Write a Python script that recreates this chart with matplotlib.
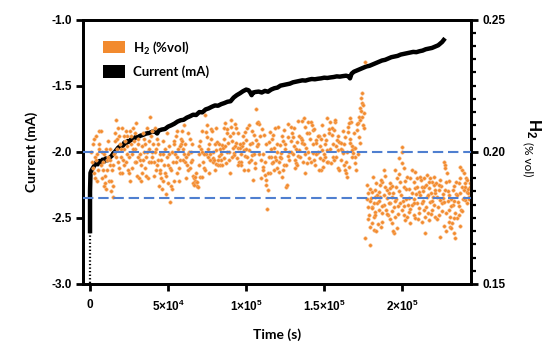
import matplotlib
matplotlib.use("Agg")
import matplotlib.pyplot as plt
from matplotlib.patches import Patch
from matplotlib.ticker import FixedLocator, FuncFormatter, MultipleLocator

# ---------------- data ----------------
# Current (mA) vs time (kilo-seconds)
cur_t_ks = [0, 0, 0, 0.3, 1, 2, 3, 4, 5, 6, 7, 8, 9, 10, 11, 12, 13, 14, 15, 16, 17, 18, 19, 20,
            21, 22, 23, 24, 25, 26, 27, 28, 29, 30, 32, 34, 36, 38, 40, 42, 43, 44, 46, 48, 50,
            52, 54, 56, 58, 60, 62, 64, 66, 68, 70, 72, 74, 76, 78, 80, 82, 84, 86, 88, 90, 92,
            94, 96, 98, 100, 101.5, 102.5, 103.5, 104.5, 106, 108, 110, 112, 114, 116, 118, 120,
            122, 124, 126, 128, 130, 132, 134, 136, 138, 140, 142, 144, 146, 148, 150, 152, 154,
            156, 158, 160, 162, 164, 165.5, 166.5, 167.5, 169, 171, 173, 175, 177, 179, 181, 183,
            185, 187, 189, 191, 193, 195, 197, 199, 201, 203, 205, 207, 209, 211, 213, 215, 217,
            219, 221, 223, 224.5, 225.5, 226.5]
cur_mA = [-2.99, -2.60, -2.30, -2.16, -2.14, -2.12, -2.10, -2.08, -2.095, -2.07, -2.085, -2.06,
          -2.075, -2.05, -2.065, -2.06, -2.04, -2.03, -2.01, -2.00, -1.985, -1.97, -1.96, -1.95,
          -1.955, -1.93, -1.94, -1.92, -1.925, -1.91, -1.90, -1.91, -1.89, -1.895, -1.88, -1.872,
          -1.862, -1.858, -1.848, -1.85, -1.862, -1.84, -1.832, -1.828, -1.81, -1.80, -1.788,
          -1.772, -1.762, -1.758, -1.742, -1.732, -1.72, -1.722, -1.70, -1.702, -1.68, -1.672,
          -1.66, -1.65, -1.652, -1.64, -1.632, -1.622, -1.618, -1.59, -1.572, -1.558, -1.542,
          -1.53, -1.535, -1.55, -1.572, -1.552, -1.548, -1.545, -1.552, -1.54, -1.546, -1.53,
          -1.52, -1.515, -1.50, -1.495, -1.49, -1.485, -1.475, -1.47, -1.465, -1.46, -1.462,
          -1.455, -1.45, -1.452, -1.448, -1.445, -1.44, -1.442, -1.438, -1.435, -1.43, -1.432,
          -1.428, -1.425, -1.43, -1.445, -1.41, -1.395, -1.385, -1.375, -1.365, -1.355, -1.35,
          -1.34, -1.33, -1.32, -1.31, -1.305, -1.295, -1.285, -1.28, -1.275, -1.265, -1.26,
          -1.255, -1.25, -1.245, -1.247, -1.24, -1.235, -1.225, -1.22, -1.215, -1.205, -1.195,
          -1.18, -1.17, -1.155]

# H2 (% vol) vs time (kilo-seconds), read point by point
h2_t_ks = [
    1.0, 2.0, 3.0, 4.0, 4.5, 5.0, 5.5, 6.0, 3.5, 2.5,
    7.0, 7.5, 8.0, 8.5, 9.0, 9.5, 10.0, 10.5, 11.0, 11.5, 12.0, 12.5,
    13.0, 13.5, 14.0, 14.5, 15.0, 15.5, 16.0, 16.5, 17.0, 17.5, 18.0, 18.5, 19.0,
    19.5, 20.0, 20.5, 21.0, 21.5, 22.0, 22.5, 23.0, 23.5, 24.0, 24.5, 25.0, 25.5,
    26.0, 26.5, 27.0, 27.5, 28.0, 28.5, 29.0, 29.5, 30.0, 30.5, 31.0, 31.5,
    32.0, 32.5, 33.0, 33.5, 34.0, 34.5, 35.0, 35.5, 36.0, 36.5, 37.0, 37.5, 38.0,
    38.5, 39.0, 39.5, 40.0, 40.5, 41.0, 41.5, 42.0, 42.5, 43.0, 43.5, 44.0, 44.5,
    45.0, 45.5, 46.0, 46.5, 47.0, 47.5, 48.0, 48.5, 49.0, 49.5, 50.0, 50.5, 51.0,
    51.5, 52.0, 52.5, 53.0, 53.5, 54.0, 54.5, 55.0, 55.5, 56.0, 56.5, 57.0, 57.5,
    58.0, 58.5, 59.0, 59.5, 60.0, 60.5, 61.0, 61.5, 62.0, 62.5, 63.0, 63.5, 64.0,
    64.5, 65.0, 65.5, 66.0, 66.5, 67.0, 67.5, 68.0, 68.5, 69.0, 69.5, 70.0, 70.2,
    71.0, 71.5, 72.0, 72.5, 73.0, 73.5, 74.0, 74.5, 75.0, 75.5, 76.0, 76.5,
    77.0, 77.5, 78.0, 78.5, 79.0, 79.5, 80.0, 80.5, 81.0, 81.5, 82.0, 82.5, 83.0,
    83.5, 84.0, 84.5, 85.0, 85.5, 86.0, 86.5, 87.0, 87.5, 88.0, 88.5, 89.0, 89.5,
    90.0, 90.5, 91.0, 91.5, 92.0, 92.5, 93.0, 93.5, 94.0, 94.5, 95.0, 95.5,
    96.0, 96.5, 97.0, 97.5, 98.0, 98.5, 99.0, 99.5, 100.0, 100.5, 101.0, 101.5, 102.0,
    103.0, 103.5, 104.0, 104.5, 105.0, 105.5, 106.0, 106.5, 107.0, 107.5, 108.0, 108.5,
    109.5, 110.0, 110.5, 111.0, 111.5, 112.0, 112.5, 113.0, 113.5, 114.0, 114.5, 115.0, 115.5,
    116.0, 116.5, 117.0, 117.5, 118.0, 118.5, 119.0, 119.5, 120.0, 120.5, 121.0, 121.5,
    122.0, 122.5, 123.0, 123.5, 124.0, 124.5, 125.0, 125.5, 126.0, 126.5, 127.0, 127.5,
    128.5, 129.0, 129.5, 130.0, 130.5, 131.0, 131.5, 132.0, 132.5, 133.0, 133.5, 134.0,
    135.0, 135.5, 136.0, 136.5, 137.0, 137.5, 138.0, 138.5, 139.0, 139.5, 140.0, 140.5,
    141.5, 142.0, 142.5, 143.0, 143.5, 144.0, 144.5, 145.0, 145.5, 146.0, 146.5, 147.0,
    147.5, 148.0, 148.5, 149.0, 149.5, 150.0, 150.5, 151.0, 151.5, 152.0, 152.5, 153.0,
    154.0, 154.5, 155.0, 155.5, 156.0, 156.5, 157.0, 157.5, 158.0, 158.5, 159.0, 159.5,
    160.5, 161.0, 161.5, 162.0, 162.5, 163.0, 163.5, 164.0, 164.5, 165.0, 165.5, 166.0, 166.5, 166.2,
    167.0, 167.5, 168.0, 168.5, 169.0, 169.5, 170.0, 170.5, 171.0, 171.5, 172.0, 172.5, 173.0, 173.2,
    173.5, 174.0, 174.5, 175.0, 175.5, 174.2, 174.8, 175.2, 176.3,
    # second period
    176.3, 179.5, 182.7, 184.8, 183.8, 185.9, 181.6, 180.6, 182.7, 184.8, 187.0, 181.9, 180.6,
    179.5, 181.9, 186.2, 187.0, 188.0, 189.0, 190.2, 191.2, 192.3, 193.4, 190.2, 192.3, 194.4,
    195.5, 193.4, 194.4, 196.6, 199.7, 199.7, 197.6, 199.7, 200.8, 195.5, 196.6, 198.7, 200.8,
    198.7, 199.7, 200.8, 201.9, 204.0, 203.0, 205.1, 207.2, 208.3, 206.1, 205.1, 207.2, 208.3,
    209.4, 211.5, 212.6, 210.4, 209.4, 210.4, 212.6, 213.7, 214.7, 212.6, 214.7, 215.8, 217.9,
    219.0, 220.1, 216.9, 221.1, 223.3, 222.2, 224.4, 225.4, 215.8, 217.9, 220.1, 219.0, 221.1,
    216.9, 224.4, 226.5, 227.6, 227.6, 228.6, 229.7, 230.8, 229.7, 231.8, 230.8, 232.9, 234.0,
    234.0, 235.0, 236.1, 237.2, 238.3, 239.3, 237.2, 236.1, 238.3, 239.3, 241.5, 242.5, 240.4,
    241.5, 178.2, 180.3, 182.5, 178.2, 180.3, 183.5,
    177.5, 179.0, 178.8, 183.0, 185.5, 186.8, 188.5, 189.5, 191.0, 192.0, 193.5, 194.0, 196.0,
    197.0, 198.0, 201.5, 202.5, 203.5, 204.5, 206.5, 207.8, 209.0, 211.0, 213.0, 214.0, 215.0,
    216.3, 218.5, 219.8, 221.8, 222.8, 223.8, 225.0, 226.0, 227.0, 228.0, 229.0, 230.2, 231.2,
    232.3, 233.4, 234.6, 235.6, 236.8, 237.8, 238.8, 240.0, 240.8, 242.0, 243.0, 243.5, 231.5,
    233.0, 226.8, 228.3]
h2_vol = [
    0.196, 0.203, 0.190, 0.206, 0.199, 0.193, 0.201, 0.208, 0.198, 0.192,
    0.208, 0.200, 0.193, 0.196, 0.187, 0.191, 0.186, 0.201, 0.197, 0.204, 0.189, 0.195,
    0.197, 0.189, 0.193, 0.187, 0.183, 0.199, 0.207, 0.212, 0.205, 0.201, 0.196, 0.206, 0.192,
    0.203, 0.198, 0.209, 0.197, 0.195, 0.201, 0.204, 0.208, 0.199, 0.206, 0.193, 0.192, 0.189,
    0.203, 0.206, 0.199, 0.209, 0.204, 0.196, 0.201, 0.211, 0.191, 0.198, 0.205, 0.190,
    0.197, 0.195, 0.192, 0.202, 0.207, 0.200, 0.194, 0.203, 0.198, 0.209, 0.190, 0.196, 0.201,
    0.213, 0.206, 0.200, 0.198, 0.203, 0.196, 0.209, 0.193, 0.201, 0.205, 0.197, 0.187, 0.199,
    0.192, 0.190, 0.186, 0.199, 0.204, 0.195, 0.192, 0.191, 0.207, 0.198, 0.188, 0.202, 0.194,
    0.181, 0.187, 0.186, 0.196, 0.204, 0.203, 0.199, 0.196, 0.208, 0.192, 0.201, 0.189, 0.197,
    0.205, 0.203, 0.204, 0.201, 0.199, 0.210, 0.196, 0.198, 0.195, 0.193, 0.207, 0.200, 0.194,
    0.200, 0.203, 0.197, 0.191, 0.190, 0.189, 0.1906, 0.1887, 0.187, 0.1865, 0.202, 0.199, 0.1905,
    0.201, 0.200, 0.1906, 0.196, 0.194, 0.214, 0.2076, 0.199, 0.2057, 0.198, 0.203, 0.1918,
    0.199, 0.2085, 0.2079, 0.1975, 0.1962, 0.197, 0.203, 0.1955, 0.2005, 0.2038, 0.195, 0.1985, 0.201,
    0.195, 0.197, 0.2026, 0.2013, 0.209, 0.1975, 0.202, 0.1956, 0.207, 0.2085, 0.2032, 0.200, 0.192,
    0.212, 0.2095, 0.204, 0.2013, 0.1994, 0.1988, 0.2105, 0.2032, 0.1975, 0.207, 0.2015, 0.196,
    0.2013, 0.1962, 0.195, 0.202, 0.2032, 0.2005, 0.1985, 0.2075, 0.2045, 0.198, 0.193, 0.2005, 0.210,
    0.197, 0.1988, 0.2032, 0.1893, 0.2065, 0.1956, 0.2045, 0.216, 0.202, 0.2112, 0.2105, 0.199,
    0.197, 0.2085, 0.1944, 0.1931, 0.2065, 0.1912, 0.1893, 0.1875, 0.1783, 0.1855, 0.2035, 0.1918, 0.2075,
    0.198, 0.1956, 0.1962, 0.2063, 0.2015, 0.198, 0.197, 0.1937, 0.203, 0.2095, 0.1925, 0.2025,
    0.1994, 0.1975, 0.1906, 0.204, 0.195, 0.2082, 0.201, 0.1868, 0.1874, 0.1985, 0.2055, 0.200,
    0.2095, 0.200, 0.207, 0.2057, 0.202, 0.197, 0.1937, 0.1956, 0.2035, 0.1985, 0.2115, 0.2005,
    0.2051, 0.2045, 0.2032, 0.1962, 0.2126, 0.199, 0.2095, 0.2015, 0.1956, 0.2113, 0.207, 0.1975,
    0.2113, 0.2101, 0.2082, 0.1994, 0.197, 0.195, 0.2045, 0.2032, 0.1994, 0.200, 0.206, 0.1975,
    0.202, 0.1931, 0.2007, 0.197, 0.1944, 0.2063, 0.198, 0.2045, 0.2126, 0.2005, 0.196, 0.2085,
    0.2113, 0.1956, 0.2063, 0.198, 0.2082, 0.197, 0.2113, 0.202, 0.2045, 0.2005, 0.194, 0.2035,
    0.2032, 0.197, 0.2007, 0.1994, 0.195, 0.2057, 0.1931, 0.1918, 0.1906, 0.2076, 0.2095, 0.1944, 0.2126, 0.2032,
    0.2113, 0.202, 0.2007, 0.1994, 0.2013, 0.198, 0.1956, 0.1931, 0.2082, 0.2108, 0.2057, 0.2133, 0.212, 0.2032,
    0.2202, 0.2221, 0.2183, 0.2177, 0.2145, 0.2133, 0.2101, 0.2089, 0.234,
    # second period
    0.1673, 0.1648, 0.1855, 0.1849, 0.1837, 0.183, 0.1805, 0.1792, 0.1773, 0.178, 0.1767, 0.1755, 0.173,
    0.1717, 0.1704, 0.1717, 0.1736, 0.1931, 0.1868, 0.1855, 0.1843, 0.1862, 0.183, 0.1824, 0.1805, 0.1792,
    0.1755, 0.173, 0.1692, 0.1711, 0.2019, 0.200, 0.1975, 0.1956, 0.1937, 0.1931, 0.190, 0.1887, 0.1868,
    0.1805, 0.178, 0.1761, 0.1742, 0.1773, 0.1755, 0.173, 0.1761, 0.1749, 0.1931, 0.190, 0.1887, 0.1862,
    0.190, 0.1906, 0.1868, 0.1849, 0.1805, 0.1786, 0.1805, 0.178, 0.1755, 0.1736, 0.1692, 0.1912, 0.190,
    0.1887, 0.1874, 0.1862, 0.1843, 0.1855, 0.183, 0.1818, 0.1805, 0.183, 0.1811, 0.1799, 0.178, 0.1755,
    0.1742, 0.1679, 0.1962, 0.195, 0.1937, 0.1918, 0.178, 0.1755, 0.1736, 0.173, 0.1717, 0.1692, 0.1673,
    0.1767, 0.1749, 0.1761, 0.1944, 0.1931, 0.1918, 0.190, 0.188, 0.1868, 0.1855, 0.1849, 0.183, 0.1818,
    0.1805, 0.1843, 0.1849, 0.183, 0.1792, 0.1786, 0.1805,
    0.1875, 0.1812, 0.1760, 0.1700, 0.1875, 0.1885, 0.1800, 0.1780, 0.1760, 0.1745, 0.1870, 0.1700, 0.1820,
    0.1795, 0.1850, 0.1890, 0.1820, 0.1800, 0.1860, 0.1800, 0.1820, 0.1840, 0.1770, 0.1850, 0.1900, 0.1790,
    0.1770, 0.1845, 0.1830, 0.1880, 0.1790, 0.1760, 0.1870, 0.1840, 0.1810, 0.1770, 0.1850, 0.1890, 0.1820,
    0.1800, 0.1870, 0.1840, 0.1810, 0.1720, 0.1780, 0.1820, 0.1880, 0.1900, 0.1860, 0.1820, 0.1880, 0.1710,
    0.1750, 0.1720, 0.1700]

# further H2 readings (interleaved samples, same series)
h2_t_ks_b = [
    0.75, 1.75, 2.75, 3.75, 4.75, 5.75, 6.75, 7.75, 8.75, 9.75, 10.75, 11.75,
    12.75, 13.75, 14.75, 15.75, 16.75, 17.75, 18.75, 19.75, 20.75, 21.75, 22.75, 23.75, 24.75,
    25.75, 26.75, 27.75, 28.75, 29.75, 30.75, 31.75, 32.75, 33.75, 34.75, 35.75, 36.75, 37.75,
    38.75, 39.75, 40.75, 41.75, 42.75, 43.75, 44.75, 45.75, 46.75, 47.75, 48.75, 49.75, 50.75,
    51.75, 52.75, 53.75, 54.75, 55.75, 56.75, 57.75, 58.75, 59.75, 60.75, 61.75, 62.75, 63.75,
    64.75, 65.75, 66.75, 67.75, 68.75, 69.75, 70.75, 71.75, 72.75, 73.75, 74.75, 75.75, 76.75,
    77.75, 78.75, 79.75, 80.75, 81.75, 82.75, 83.75, 84.75, 85.75, 86.75, 87.75, 88.75, 89.75,
    90.75, 91.75, 92.75, 93.75, 94.75, 95.75, 96.75, 97.75, 98.75, 99.75, 100.75, 101.75, 102.75,
    103.75, 104.75, 105.75, 106.75, 107.75, 108.75, 109.75, 110.75, 111.75, 112.75, 113.75, 114.75, 115.75,
    116.75, 117.75, 118.75, 119.75, 120.75, 121.75, 122.75, 123.75, 124.75, 125.75, 126.75, 127.75, 128.75,
    129.75, 130.75, 131.75, 132.75, 133.75, 134.75, 135.75, 136.75, 137.75, 138.75, 139.75, 140.75, 141.75,
    142.75, 143.75, 144.75, 145.75, 146.75, 147.75, 148.75, 149.75, 150.75, 151.75, 152.75, 153.75, 154.75,
    155.75, 156.75, 157.75, 158.75, 159.75, 160.75, 161.75, 162.75, 163.75, 164.75, 165.75, 166.75, 167.75,
    168.75, 169.75, 170.75, 171.75, 172.75, 173.75,
    177.2, 178.2, 179.2, 180.2, 181.2, 182.2, 183.2, 184.2, 185.2, 186.2, 187.2, 188.2, 189.2,
    190.2, 191.2, 192.2, 193.2, 194.2, 195.2, 196.2, 197.2, 198.2, 199.2, 200.2, 201.2, 202.2,
    203.2, 204.2, 205.2, 206.2, 207.2, 208.2, 209.2, 210.2, 211.2, 212.2, 213.2, 214.2, 215.2,
    216.2, 217.2, 218.2, 219.2, 220.2, 221.2, 222.2, 223.2, 224.2, 225.2, 226.2, 227.2, 228.2,
    229.2, 230.2, 231.2, 232.2, 233.2, 234.2, 235.2, 236.2, 237.2, 238.2, 239.2, 240.2, 241.2,
    242.2, 243.2]
h2_vol_b = [
    0.200, 0.194, 0.205, 0.197, 0.189, 0.203, 0.195, 0.190, 0.199, 0.188, 0.193, 0.198,
    0.201, 0.185, 0.195, 0.204, 0.198, 0.209, 0.194, 0.201, 0.192, 0.206, 0.196, 0.202, 0.198,
    0.208, 0.194, 0.201, 0.207, 0.196, 0.203, 0.199, 0.189, 0.197, 0.205, 0.191, 0.200, 0.204,
    0.196, 0.208, 0.191, 0.200, 0.195, 0.203, 0.193, 0.197, 0.189, 0.201, 0.184, 0.195, 0.199,
    0.193, 0.200, 0.189, 0.206, 0.198, 0.194, 0.202, 0.208, 0.197, 0.203, 0.190, 0.199, 0.205,
    0.196, 0.188, 0.1875, 0.192, 0.1885, 0.195, 0.204, 0.208, 0.199, 0.193, 0.210, 0.201, 0.197,
    0.205, 0.200, 0.193, 0.209, 0.197, 0.203, 0.199, 0.195, 0.205, 0.211, 0.200, 0.197, 0.206,
    0.198, 0.207, 0.202, 0.209, 0.195, 0.203, 0.199, 0.206, 0.193, 0.201, 0.209, 0.196, 0.203,
    0.208, 0.199, 0.194, 0.211, 0.203, 0.206, 0.190, 0.199, 0.196, 0.203, 0.192, 0.198, 0.201,
    0.205, 0.193, 0.209, 0.200, 0.196, 0.198, 0.206, 0.193, 0.203, 0.195, 0.2105, 0.197, 0.204,
    0.199, 0.209, 0.201, 0.195, 0.206, 0.198, 0.2115, 0.203, 0.192, 0.207, 0.200, 0.205, 0.196,
    0.203, 0.2085, 0.199, 0.206, 0.193, 0.205, 0.210, 0.199, 0.203, 0.196, 0.207, 0.201, 0.209,
    0.203, 0.212, 0.198, 0.206, 0.193, 0.201, 0.208, 0.203, 0.196, 0.200, 0.211, 0.205, 0.198,
    0.207, 0.2015, 0.2105, 0.199, 0.2165, 0.2155,
    0.182, 0.1745, 0.186, 0.1825, 0.1905, 0.176, 0.188, 0.1725, 0.1815, 0.1895, 0.1795, 0.1835, 0.191,
    0.1765, 0.1805, 0.188, 0.1775, 0.1845, 0.1815, 0.1865, 0.1765, 0.1915, 0.1835, 0.1815, 0.1795, 0.186,
    0.1905, 0.1825, 0.1785, 0.1845, 0.1805, 0.1925, 0.1865, 0.1745, 0.1835, 0.1895, 0.1815, 0.1865, 0.1875,
    0.1835, 0.1885, 0.1765, 0.1815, 0.1905, 0.1855, 0.1745, 0.1875, 0.1895, 0.1775, 0.1825, 0.1855, 0.1885,
    0.1815, 0.1835, 0.1795, 0.1855, 0.1815, 0.1885, 0.1835, 0.1795, 0.1845, 0.1775, 0.1825, 0.1865, 0.1895,
    0.1845, 0.1865]

ref_levels = [0.200, 0.1826]          # dashed reference lines (H2 axis)
x_ticks_s = [0, 5e4, 1e5, 1.5e5, 2e5]
x_tick_labels = ["0", r"5×10$^{4}$", r"1×10$^{5}$", r"1.5×10$^{5}$", r"2×10$^{5}$"]
left_ticks = [-3.0, -2.5, -2.0, -1.5, -1.0]
right_ticks = [0.15, 0.20, 0.25]

# ---------------- style ----------------
plt.rcParams['font.family'] = ['Liberation Sans', 'DejaVu Sans']
plt.rcParams['font.weight'] = 'bold'
plt.rcParams['mathtext.fontset'] = 'custom'
plt.rcParams['mathtext.rm'] = 'Liberation Sans:bold'
plt.rcParams['mathtext.it'] = 'Liberation Sans:bold'
plt.rcParams['mathtext.bf'] = 'Liberation Sans:bold'

ORANGE = '#F28A2E'
BLUE = '#4F7FD0'
SW = 2.0

fig = plt.figure(figsize=(5.5, 3.49), dpi=100)
ax = fig.add_axes([83/550, 1-284/349, (471-83)/550, (284-19.5)/349])
ax2 = ax.twinx()

t_cur = [v*1e3 for v in cur_t_ks]
t_h2 = [v*1e3 for v in h2_t_ks + h2_t_ks_b]
v_h2 = h2_vol + h2_vol_b

# current line: dotted initial drop then solid trace
ax.plot(t_cur[:2], cur_mA[:2], color='black', lw=1.6, ls=(0, (0.6, 1.0)), zorder=3)
ax.plot(t_cur[1:], cur_mA[1:], color='black', lw=3.2, zorder=3)

ax2.scatter(t_h2, v_h2, s=6, color=ORANGE, edgecolors='#F8B06E', linewidths=0.4, zorder=2)
for lv in ref_levels:
    ax2.axhline(lv, color=BLUE, lw=1.5, ls=(0, (5, 2.3)), zorder=4)

ax.set_xlim(-4500, 244000)
ax.set_ylim(-3.0, -1.0)
ax2.set_ylim(0.15, 0.25)

ax.xaxis.set_major_locator(FixedLocator(x_ticks_s))
ax.set_xticklabels(x_tick_labels)
ax.set_yticks(left_ticks)
ax.yaxis.set_major_formatter(FuncFormatter(lambda v, p: f"{v:.1f}"))
ax2.set_yticks(right_ticks)
ax2.yaxis.set_major_formatter(FuncFormatter(lambda v, p: f"{v:.2f}"))
ax2.yaxis.set_minor_locator(MultipleLocator(0.005))

for a in (ax, ax2):
    for s in a.spines.values():
        s.set_linewidth(SW)
ax.tick_params(axis='both', which='major', direction='out', length=5, width=SW,
               labelsize=8.5, pad=3)
ax.tick_params(axis='x', pad=6)
ax2.tick_params(axis='y', which='major', direction='out', length=5, width=SW,
                labelsize=8.5, pad=3)
ax2.tick_params(axis='y', which='minor', direction='out', length=3.5, width=1.6)

lab_font = dict(family=['Lato', 'DejaVu Sans'], weight='bold', size=10)
ax.set_xlabel('Time (s)', fontdict=lab_font, labelpad=10)
ax.set_ylabel('Current (mA)', fontdict=lab_font, labelpad=10)
fig.text(533/550, 1-128/349, r'H$_2$', rotation=270, ha='center', va='center',
         fontsize=12, fontweight='bold', family=['Liberation Sans', 'DejaVu Sans'])
fig.text(528/550, 1-159/349, '(% vol)', rotation=270, ha='center', va='center',
         fontsize=8.5, fontweight='normal', family=['Lato', 'DejaVu Sans'])

handles = [Patch(facecolor=ORANGE, edgecolor='none', label=r'H$_{\mathregular{2}}$ (%vol)'),
           Patch(facecolor='black', edgecolor='none', label='Current (mA)')]
leg = ax.legend(handles=handles, loc='upper left', frameon=False,
                prop=dict(family=['Lato', 'DejaVu Sans'], weight='bold', size=9.5),
                handlelength=1.7, handleheight=1.1, handletextpad=0.6, labelspacing=0.75,
                bbox_to_anchor=(0.02, 0.97))

fig.savefig('out.png', dpi=100)
